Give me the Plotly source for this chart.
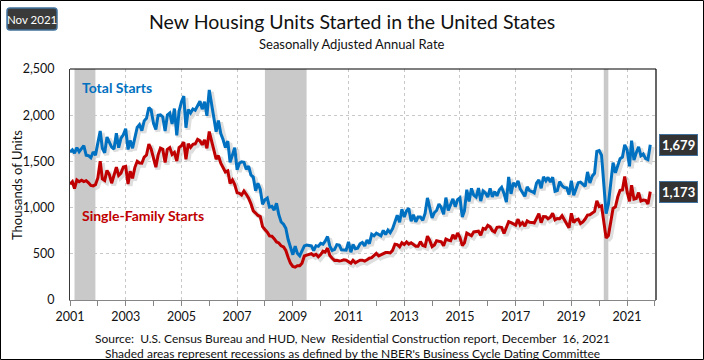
import plotly.graph_objects as go
import pandas as pd

# ---------------- data ----------------
start_month = "2001-01-01"
end_month = "2021-11-01"

total_starts = [
    1600, 1625, 1590, 1649, 1605, 1636, 1670, 1567, 1562, 1540, 1602, 1568,
    1698, 1829, 1642, 1592, 1764, 1717, 1655, 1633, 1804, 1648, 1753, 1788,
    1853, 1629, 1726, 1643, 1751, 1867, 1897, 1833, 1939, 1967, 2083, 2057,
    1911, 1846, 1998, 2003, 1981, 1828, 2002, 2024, 1905, 2072, 1782, 2042,
    2144, 2207, 1864, 2061, 2025, 2068, 2054, 2095, 2151, 2065, 2147, 1994,
    2273, 2119, 1969, 1821, 1942, 1802, 1737, 1650, 1720, 1491, 1570, 1649,
    1409, 1480, 1495, 1490, 1415, 1448, 1354, 1330, 1183, 1264, 1197, 1037,
    1084, 1103, 1005, 1013, 973, 1046, 923, 844, 820, 777, 652, 560,
    490, 582, 505, 478, 540, 585, 594, 586, 585, 534, 588, 581,
    614, 604, 636, 687, 583, 536, 546, 599, 594, 543, 545, 539,
    630, 517, 600, 554, 561, 608, 623, 585, 650, 610, 711, 694,
    723, 704, 695, 753, 708, 757, 728, 772, 854, 917, 841, 982,
    898, 969, 994, 853, 922, 847, 898, 898, 863, 936, 1105, 1003,
    888, 947, 969, 1039, 1002, 927, 1108, 970, 1033, 1095, 1010, 1087,
    1106, 897, 964, 1193, 1067, 1208, 1134, 1113, 1212, 1071, 1179, 1158,
    1114, 1208, 1117, 1172, 1127, 1193, 1220, 1153, 1059, 1332, 1149, 1268,
    1236, 1288, 1203, 1155, 1122, 1225, 1185, 1174, 1159, 1265, 1299, 1209,
    1334, 1290, 1327, 1276, 1329, 1177, 1184, 1282, 1237, 1217, 1214, 1142,
    1291, 1134, 1203, 1270, 1276, 1248, 1230, 1386, 1266, 1340, 1371, 1608,
    1617, 1567, 1269, 934, 1038, 1265, 1487, 1376, 1447, 1530, 1547, 1680,
    1625, 1447, 1725, 1514, 1594, 1657, 1562, 1580, 1530, 1520, 1679,
]

single_family_starts = [
    1253, 1280, 1207, 1298, 1280, 1296, 1281, 1291, 1268, 1240, 1235, 1248,
    1321, 1502, 1311, 1294, 1402, 1357, 1264, 1357, 1437, 1349, 1373, 1440,
    1446, 1256, 1394, 1316, 1433, 1501, 1482, 1480, 1547, 1569, 1688, 1634,
    1520, 1437, 1568, 1644, 1632, 1488, 1631, 1649, 1575, 1596, 1503, 1650,
    1670, 1709, 1523, 1691, 1651, 1685, 1690, 1739, 1722, 1679, 1732, 1642,
    1823, 1721, 1614, 1525, 1563, 1480, 1435, 1386, 1398, 1262, 1299, 1249,
    1160, 1155, 1137, 1179, 1144, 1101, 1043, 965, 941, 915, 903, 794,
    763, 734, 694, 691, 664, 628, 617, 586, 574, 536, 460, 398,
    364, 355, 370, 370, 399, 476, 485, 494, 501, 482, 494, 467,
    491, 529, 519, 562, 482, 452, 428, 430, 422, 426, 435, 431,
    411, 398, 429, 403, 417, 431, 431, 420, 435, 452, 458, 476,
    504, 477, 489, 495, 513, 514, 509, 537, 604, 599, 576, 620,
    600, 628, 604, 620, 605, 583, 583, 632, 590, 582, 691, 644,
    578, 596, 642, 639, 630, 587, 660, 648, 641, 707, 660, 726,
    678, 589, 618, 724, 705, 695, 737, 737, 745, 701, 775, 766,
    807, 791, 751, 735, 787, 791, 785, 720, 787, 848, 838, 822,
    810, 875, 811, 838, 800, 856, 842, 840, 834, 883, 935, 836,
    903, 902, 879, 897, 938, 867, 882, 879, 912, 868, 830, 782,
    938, 837, 866, 876, 827, 845, 876, 919, 923, 941, 958, 1073,
    1010, 1019, 851, 670, 698, 835, 991, 1008, 1117, 1187, 1192, 1336,
    1172, 1067, 1243, 1091, 1098, 1162, 1072, 1082, 1079, 1039, 1173,
]

recession_starts = ["2001-03-01", "2008-01-01", "2020-03-01"]
recession_ends = ["2001-11-30", "2009-06-30", "2020-04-30"]

x_range = ["2001-01-01", "2022-01-15"]
y_range = [0, 2500]

title_text = "New Housing Units Started in the United States"
subtitle_text = "Seasonally Adjusted Annual Rate"
badge_text = "Nov 2021"
y_title = "Thousands of Units"
series_names = ["Total Starts", "Single-Family Starts"]
source_lines = [
    "Source:  U.S. Census Bureau and HUD, New  Residential Construction report, December  16, 2021",
    "Shaded areas represent recessions as defined by the NBER's Business Cycle Dating Committee",
]

# ---------------- layout geometry ----------------
W, H = 704, 360
ML, MT = 70, 69
SDX, SDY = 2, 2          # shadow offset (px)
MR, MB = 48 - SDX, 60 - SDY
PW, PH = W - ML - MR, H - MT - MB


def px(x):
    return (x - ML) / PW


def py(y):
    return 1 - (y - MT) / PH


FONT = "Lato, Carlito, Calibri, sans-serif"
BLUE = "#0070C0"
RED = "#C00000"
TXT = "#111111"

dates = pd.date_range(start_month, end_month, freq="MS")
assert len(dates) == len(total_starts) == len(single_family_starts)

main_dom_x = [0, (PW - SDX) / PW]
main_dom_y = [SDY / PH, 1]
shad_dom_x = [SDX / PW, 1]
shad_dom_y = [0, (PH - SDY) / PH]

fig = go.Figure()

# soft shadows (subplot xy, drawn first, offset by its domain)
for vals in (total_starts, single_family_starts):
    fig.add_trace(go.Scatter(x=dates, y=vals, mode="lines", xaxis="x", yaxis="y",
                             line=dict(color="rgba(0,0,0,0.13)", width=5),
                             hoverinfo="skip", showlegend=False))

# main lines (subplot x2y2)
fig.add_trace(go.Scatter(x=dates, y=total_starts, mode="lines", xaxis="x2", yaxis="y2",
                         name=series_names[0], line=dict(color=BLUE, width=3),
                         showlegend=False))
fig.add_trace(go.Scatter(x=dates, y=single_family_starts, mode="lines", xaxis="x2", yaxis="y2",
                         name=series_names[1], line=dict(color=RED, width=3),
                         showlegend=False))

shapes = []
for s, e in zip(recession_starts, recession_ends):
    shapes.append(dict(type="rect", xref="x2", yref="y2", x0=s, x1=e,
                       y0=y_range[0], y1=y_range[1],
                       fillcolor="#C9C9C9", line=dict(width=0), layer="between"))
# top & right black frame of plot area
shapes.append(dict(type="line", xref="x2 domain", yref="y2 domain", x0=0, x1=1, y0=1, y1=1,
                   line=dict(color="black", width=1.2), layer="above"))
shapes.append(dict(type="line", xref="x2 domain", yref="y2 domain", x0=1, x1=1, y0=0, y1=1,
                   line=dict(color="black", width=1.2), layer="above"))
# outer border
shapes.append(dict(type="rect", xref="paper", yref="paper",
                   x0=px(0.5), x1=px(W - 0.5), y0=py(H - 0.5), y1=py(0.5),
                   line=dict(color="black", width=1), fillcolor="rgba(0,0,0,0)", layer="above"))


# badge with rounded corners (paper coords)
def pt(x, y):
    return f"{px(x)},{py(y)}"


bx0, bx1, by0, by1, r = 7, 57, 8, 30, 3
badge_path = (f"M {pt(bx0+r,by0)} L {pt(bx1-r,by0)} Q {pt(bx1,by0)} {pt(bx1,by0+r)} "
              f"L {pt(bx1,by1-r)} Q {pt(bx1,by1)} {pt(bx1-r,by1)} L {pt(bx0+r,by1)} "
              f"Q {pt(bx0,by1)} {pt(bx0,by1-r)} L {pt(bx0,by0+r)} Q {pt(bx0,by0)} {pt(bx0+r,by0)} Z")
shapes.append(dict(type="path", xref="paper", yref="paper", path=badge_path,
                   fillcolor="#3A3A3A", line=dict(color="#41719C", width=1.5), layer="above"))

annotations = [
    dict(text=title_text, xref="paper", yref="paper", x=px(352), y=py(21),
         showarrow=False, font=dict(size=19.5, color=TXT, family=FONT),
         xanchor="center", yanchor="middle"),
    dict(text=subtitle_text, xref="paper", yref="paper", x=px(352), y=py(44),
         showarrow=False, font=dict(size=13, color=TXT, family=FONT),
         xanchor="center", yanchor="middle"),
    dict(text=badge_text, xref="paper", yref="paper", x=px(32), y=py(19),
         showarrow=False, font=dict(size=11.5, color="white", family=FONT),
         xanchor="center", yanchor="middle"),
    dict(text=y_title, xref="paper", yref="paper", x=px(17), y=py(185), textangle=-90,
         showarrow=False, font=dict(size=13, color=TXT, family=FONT),
         xanchor="center", yanchor="middle"),
    dict(text=f"<b>{series_names[0]}</b>", xref="paper", yref="paper", x=px(80), y=py(87),
         showarrow=False, font=dict(size=14, color=BLUE, family=FONT),
         xanchor="left", yanchor="middle"),
    dict(text=f"<b>{series_names[1]}</b>", xref="paper", yref="paper", x=px(80), y=py(215),
         showarrow=False, font=dict(size=14, color=RED, family=FONT),
         xanchor="left", yanchor="middle"),
    dict(text=source_lines[0], xref="paper", yref="paper", x=px(352), y=py(338),
         showarrow=False, font=dict(size=12, color=TXT, family=FONT),
         xanchor="center", yanchor="middle"),
    dict(text=source_lines[1], xref="paper", yref="paper", x=px(352), y=py(353),
         showarrow=False, font=dict(size=12, color=TXT, family=FONT),
         xanchor="center", yanchor="middle"),
]
for vals in (total_starts, single_family_starts):
    annotations.append(dict(text=f"<b>{vals[-1]:,}</b>", xref="paper", yref="y2",
                            x=px(678), y=vals[-1], showarrow=False,
                            font=dict(size=13, color="white", family=FONT),
                            bgcolor="#333333", bordercolor="#41719C", borderwidth=1,
                            borderpad=2, xanchor="center", yanchor="middle"))

fig.update_layout(
    width=W, height=H,
    margin=dict(l=ML, r=MR, t=MT, b=MB, pad=0, autoexpand=False),
    paper_bgcolor="white", plot_bgcolor="rgba(0,0,0,0)",
    showlegend=False,
    font=dict(family=FONT, size=12, color=TXT),
    xaxis=dict(domain=shad_dom_x, anchor="y", range=x_range, type="date", visible=False,
               fixedrange=True, automargin=False),
    yaxis=dict(domain=shad_dom_y, anchor="x", range=y_range, visible=False, fixedrange=True,
               automargin=False),
    xaxis2=dict(domain=main_dom_x, anchor="y2", range=x_range, type="date",
                tick0="2001-01-01", dtick="M24", tickformat="%Y",
                ticks="outside", ticklen=5, tickcolor="#868686",
                showgrid=True, gridcolor="#C8C8C8", griddash="dot", gridwidth=1,
                showline=True, linecolor="#868686", linewidth=1,
                minor=dict(dtick="M12", tick0="2001-01-01", ticks="outside", ticklen=5,
                           tickcolor="#868686", showgrid=False),
                tickfont=dict(size=12.5, color=TXT, family=FONT), fixedrange=True,
                automargin=False),
    yaxis2=dict(domain=main_dom_y, anchor="x2", range=y_range, dtick=500, tickformat=",",
                showgrid=True, gridcolor="#C8C8C8", griddash="dot", gridwidth=1,
                zeroline=False, showline=True, linecolor="#3A3A3A", linewidth=1,
                ticks="", ticklabelstandoff=12,
                tickfont=dict(size=12.5, color=TXT, family=FONT),
                fixedrange=True, automargin=False),
    shapes=shapes,
    annotations=annotations,
)

fig.write_html("out.html", config={"displayModeBar": False},
               post_script="document.body.style.margin='0px';")
